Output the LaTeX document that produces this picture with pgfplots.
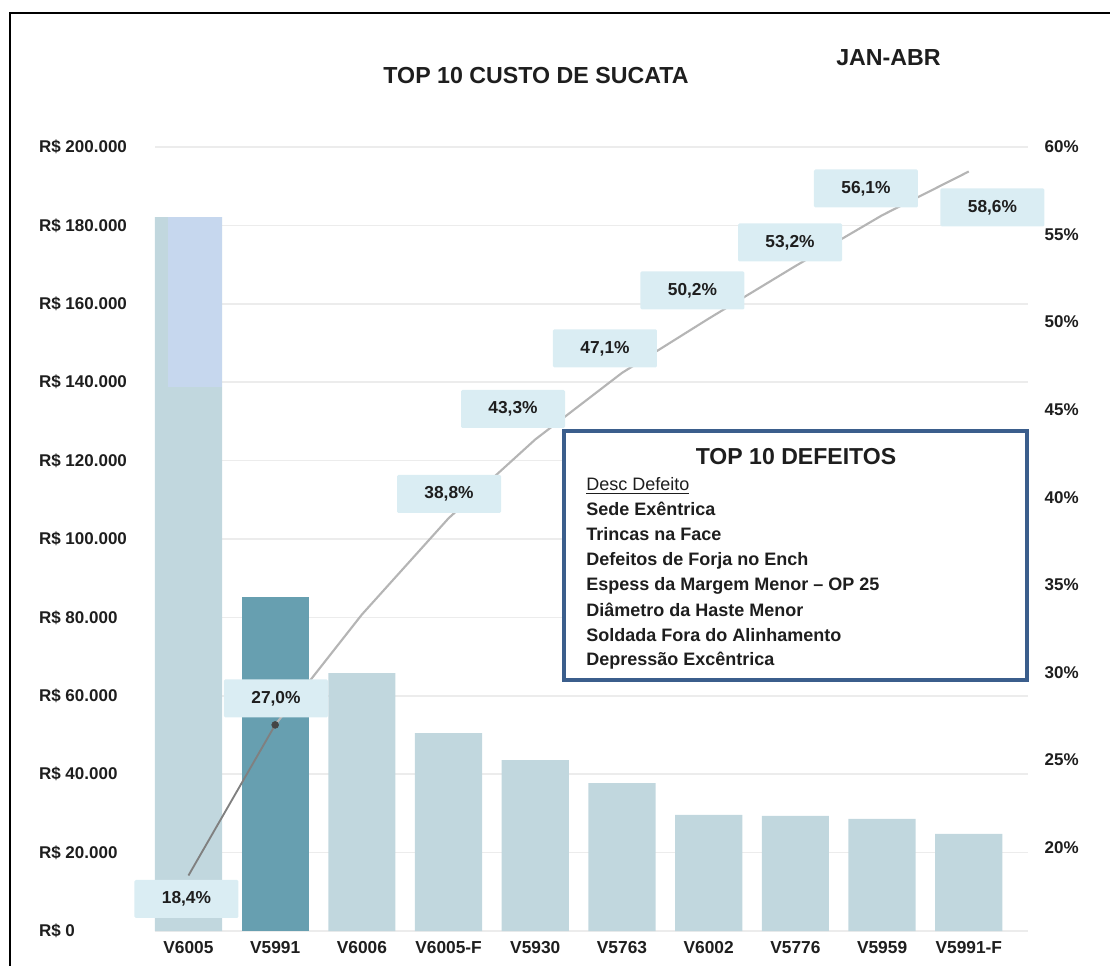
\documentclass[border=0pt]{standalone}
\usepackage{pgfplots}
\pgfplotsset{compat=1.18}
\usepackage{fontspec}
\setmainfont{Liberation Sans}
\definecolor{barlight}{HTML}{C1D7DE}
\definecolor{bardark}{HTML}{679FB0}
\definecolor{overlayc}{HTML}{C6D7EE}
\definecolor{lblbg}{HTML}{DAEDF3}
\definecolor{boxblue}{HTML}{3B5E8C}
\definecolor{gridc}{HTML}{ECECEC}
\definecolor{linegray}{HTML}{B5B5B5}
\definecolor{linedark}{HTML}{808080}
\definecolor{dotc}{HTML}{454545}
\definecolor{txt}{HTML}{1E1E1E}
\begin{document}
\begin{tikzpicture}
\path[use as bounding box] (0pt,0pt) rectangle (832.5pt,723.75pt);
% ---------- bars (left axis) ----------
\begin{axis}[
  at={(116.25pt,25.5pt)}, anchor=south west, scale only axis,
  width=654.75pt, height=588pt,
  xmin=-0.386, xmax=9.683, ymin=0, ymax=200000,
  clip=false, scaled y ticks=false,
  axis line style={draw=none}, major tick length=0pt,
  ymajorgrids, grid style={gridc, line width=1.1pt},
  ytick={0,20000,40000,60000,80000,100000,120000,140000,160000,180000,200000},
  yticklabels={R\$ 0,R\$ 20.000,R\$ 40.000,R\$ 60.000,R\$ 80.000,R\$ 100.000,R\$ 120.000,R\$ 140.000,R\$ 160.000,R\$ 180.000,R\$ 200.000},
  yticklabel style={anchor=west, xshift=-90.5pt, text=txt, font=\fontsize{12.75}{14}\selectfont\bfseries},
  xtick={0,1,2,3,4,5,6,7,8,9},
  xticklabels={V6005,V5991,V6006,V6005-F,V5930,V5763,V6002,V5776,V5959,V5991-F},
  xticklabel style={yshift=-4pt, text=txt, font=\fontsize{13}{15}\selectfont\bfseries},
]
\addplot[ybar, bar shift=0pt, bar width=0.775, fill=barlight, draw=none]
  coordinates {(0,182100) (2,65800) (3,50500) (4,43600) (5,37750) (6,29600) (7,29400) (8,28600) (9,24750)};
\addplot[ybar, bar shift=0pt, bar width=0.775, fill=bardark, draw=none]
  coordinates {(1,85200)};
\addplot[fill=overlayc, draw=none]
  coordinates {(-0.235,138700) (-0.235,182100) (0.387,182100) (0.387,138700)} -- cycle;
\end{axis}
% ---------- cumulative line (right axis) ----------
\begin{axis}[
  at={(116.25pt,25.5pt)}, anchor=south west, scale only axis,
  width=654.75pt, height=588pt,
  xmin=-0.386, xmax=9.683, ymin=15.23, ymax=60,
  clip=false,
  axis y line*=right, axis x line=none,
  axis line style={draw=none}, major tick length=0pt,
  ytick={20,25,30,35,40,45,50,55,60},
  yticklabels={20\%,25\%,30\%,35\%,40\%,45\%,50\%,55\%,60\%},
  yticklabel style={anchor=west, xshift=9pt, text=txt, font=\fontsize{12.75}{14}\selectfont\bfseries},
]
\addplot[color=linegray, line width=1.6pt]
  coordinates {(1,27.0) (2,33.3) (3,38.8) (4,43.3) (5,47.1) (6,50.2) (7,53.2) (8,56.1) (9,58.6)};
\addplot[color=linedark, line width=1.4pt]
  coordinates {(0,18.4) (1,27.0)};
\addplot[only marks, mark=*, mark size=2.6pt, color=dotc]
  coordinates {(1,27.0)};
\addplot[only marks, mark=*, mark size=0.01pt, mark options={draw=none,fill=none},
  nodes near coords, point meta=explicit symbolic,
  every node near coord/.append style={anchor=center, fill=lblbg, rounded corners=1pt,
    minimum width=78pt, minimum height=28.5pt, inner sep=0pt, text=txt,
    font=\fontsize{13}{15}\selectfont\bfseries}]
  coordinates {
    (-0.023,17.06) [18,4\%]
    (1.009,28.51) [27,0\%]
    (3.005,40.19) [38,8\%]
    (3.743,45.04) [43,3\%]
    (4.804,48.50) [47,1\%]
    (5.813,51.81) [50,2\%]
    (6.938,54.55) [53,2\%]
    (7.814,57.63) [56,1\%]
    (9.273,56.55) [58,6\%]
  };
\end{axis}
% ---------- annotations in pixel coordinates ----------
\begin{scope}[shift={(0pt,723.75pt)}, x=0.75pt, y=-0.75pt]
  \draw[black, line width=1.5pt] (10,966) -- (10,13) -- (1111,13);
  \node[text=txt, font=\fontsize{17.4}{20}\selectfont\bfseries] at (536,76) {TOP 10 CUSTO DE SUCATA};
  \node[text=txt, font=\fontsize{17.4}{20}\selectfont\bfseries] at (888.5,57.5) {JAN-ABR};
  \draw[boxblue, line width=2.4pt, fill=white] (564,431) rectangle (1027,680);
  \node[text=txt, font=\fontsize{17.3}{20}\selectfont\bfseries] at (796,457) {TOP 10 DEFEITOS};
  \begin{scope}[every node/.style={anchor=base west, inner sep=0pt, text=txt, font=\fontsize{13.5}{16}\selectfont\bfseries}]
    \node[font=\fontsize{13.5}{16}\selectfont] at (586,491) {\underline{Desc Defeito}};
    \node at (586,516) {Sede Exêntrica};
    \node at (586,541) {Trincas na Face};
    \node at (586,566) {Defeitos de Forja no Ench};
    \node at (586,591) {Espess da Margem Menor – OP 25};
    \node at (586,616) {Diâmetro da Haste Menor};
    \node at (586,641) {Soldada Fora do Alinhamento};
    \node at (586,665) {Depressão Excêntrica};
  \end{scope}
\end{scope}
\end{tikzpicture}
\end{document}
